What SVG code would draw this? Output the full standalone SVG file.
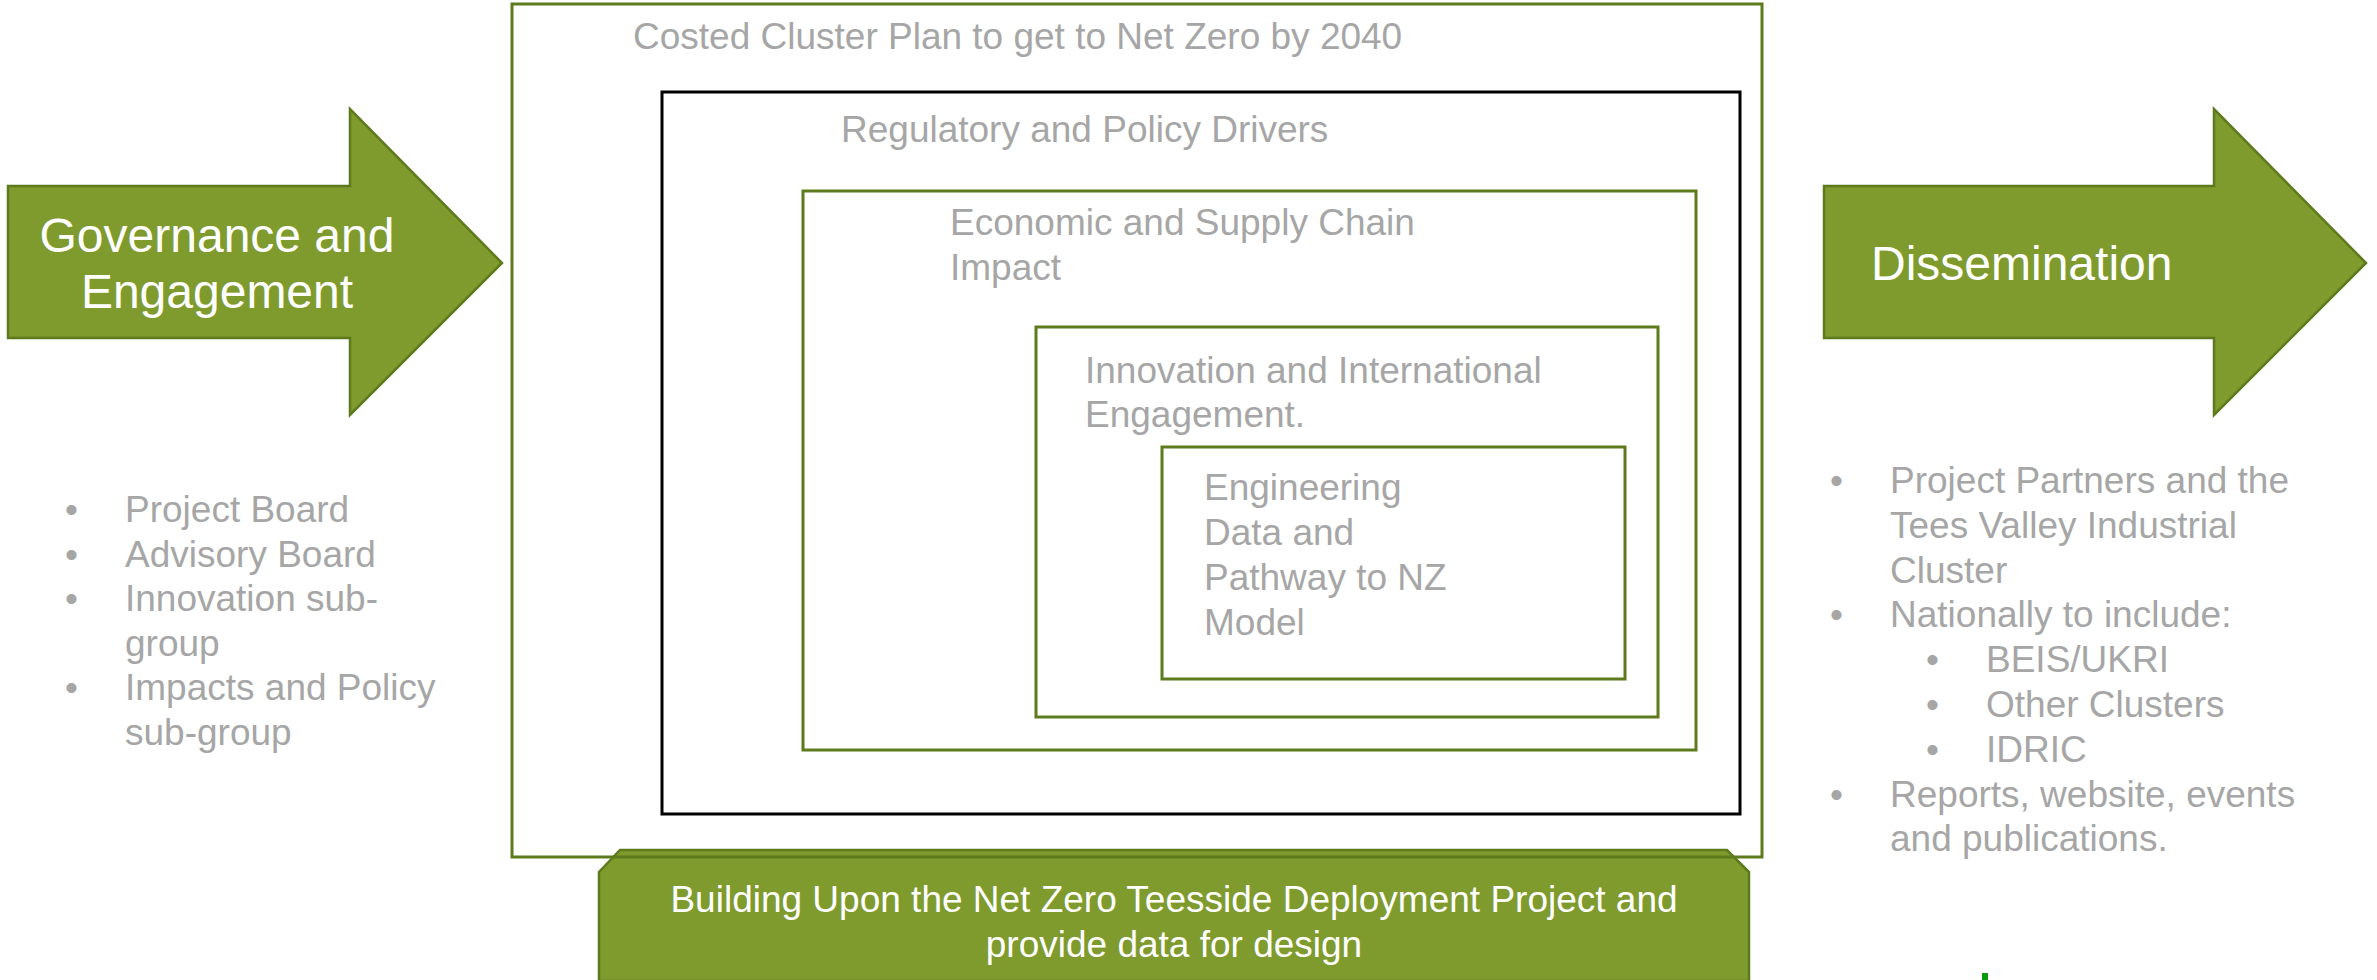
<svg xmlns="http://www.w3.org/2000/svg" width="2377" height="980" viewBox="0 0 2377 980">
<style>
.arrow{fill:#7f9b2d;stroke:#5d7a1c;stroke-width:2.5}
.gbox{fill:none;stroke:#5d7a1c;stroke-width:3}
.kbox{fill:none;stroke:#000;stroke-width:3}
.t{font-family:"Liberation Sans",Arial,sans-serif;font-size:37px;fill:#a6a6a6}
.w{font-family:"Liberation Sans",Arial,sans-serif;fill:#fff}
</style>
<rect width="2377" height="980" fill="#fff"/>
<g id="governance">
<polygon class="arrow" points="8,186 350,186 350,109 502,263 350,415 350,338 8,338"/>
<text class="w" font-size="48" text-anchor="middle"><tspan x="217" y="252">Governance and</tspan><tspan x="217" y="308">Engagement</tspan></text>
</g>
<g id="governance-list" class="t">
<text x="65" y="522">•</text><text x="125" y="522">Project Board</text>
<text x="65" y="566.5">•</text><text x="125" y="566.5">Advisory Board</text>
<text x="65" y="611">•</text><text x="125" y="611">Innovation sub-</text>
<text x="125" y="655.5">group</text>
<text x="65" y="700">•</text><text x="125" y="700">Impacts and Policy</text>
<text x="125" y="744.5">sub-group</text>
</g>
<g id="costed-plan">
<rect class="gbox" x="512" y="4" width="1250" height="853"/>
<text class="t" x="633" y="49">Costed Cluster Plan to get to Net Zero by 2040</text>
</g>
<g id="regulatory">
<rect class="kbox" x="662" y="92" width="1078" height="722"/>
<text class="t" x="841" y="142">Regulatory and Policy Drivers</text>
</g>
<g id="economic">
<rect class="gbox" x="803" y="191" width="893" height="559"/>
<text class="t"><tspan x="950" y="235">Economic and Supply Chain</tspan><tspan x="950" y="280">Impact</tspan></text>
</g>
<g id="innovation">
<rect class="gbox" x="1036" y="327" width="622" height="390"/>
<text class="t"><tspan x="1085" y="383">Innovation and International</tspan><tspan x="1085" y="427">Engagement.</tspan></text>
</g>
<g id="engineering">
<rect class="gbox" x="1162" y="447" width="463" height="232"/>
<text class="t"><tspan x="1204" y="500">Engineering</tspan><tspan x="1204" y="545">Data and</tspan><tspan x="1204" y="590">Pathway to NZ</tspan><tspan x="1204" y="635">Model</tspan></text>
</g>
<g id="building-upon">
<polygon class="arrow" points="599,872 620,850 1727,850 1749,872 1749,981 599,981"/>
<line x1="613" y1="857" x2="1734" y2="857" stroke="#5d7a1c" stroke-width="3"/>
<text class="w" font-size="37" text-anchor="middle"><tspan x="1174" y="912">Building Upon the Net Zero Teesside Deployment Project and</tspan><tspan x="1174" y="957">provide data for design</tspan></text>
</g>
<g id="dissemination">
<polygon class="arrow" points="1824,186 2214,186 2214,109 2366,263 2214,415 2214,338 1824,338"/>
<text class="w" font-size="48" x="1871" y="280">Dissemination</text>
</g>
<g id="dissemination-list" class="t">
<text x="1830" y="493">•</text><text x="1890" y="493">Project Partners and the</text>
<text x="1890" y="537.8">Tees Valley Industrial</text>
<text x="1890" y="582.6">Cluster</text>
<text x="1830" y="627.4">•</text><text x="1890" y="627.4">Nationally to include:</text>
<text x="1926" y="672.2">•</text><text x="1986" y="672.2">BEIS/UKRI</text>
<text x="1926" y="717">•</text><text x="1986" y="717">Other Clusters</text>
<text x="1926" y="761.8">•</text><text x="1986" y="761.8">IDRIC</text>
<text x="1830" y="806.6">•</text><text x="1890" y="806.6">Reports, website, events</text>
<text x="1890" y="851.4">and publications.</text>
</g>
<g id="connectors"></g>
<rect x="1982" y="973" width="6" height="7" fill="#0a9a0a"/>
</svg>
